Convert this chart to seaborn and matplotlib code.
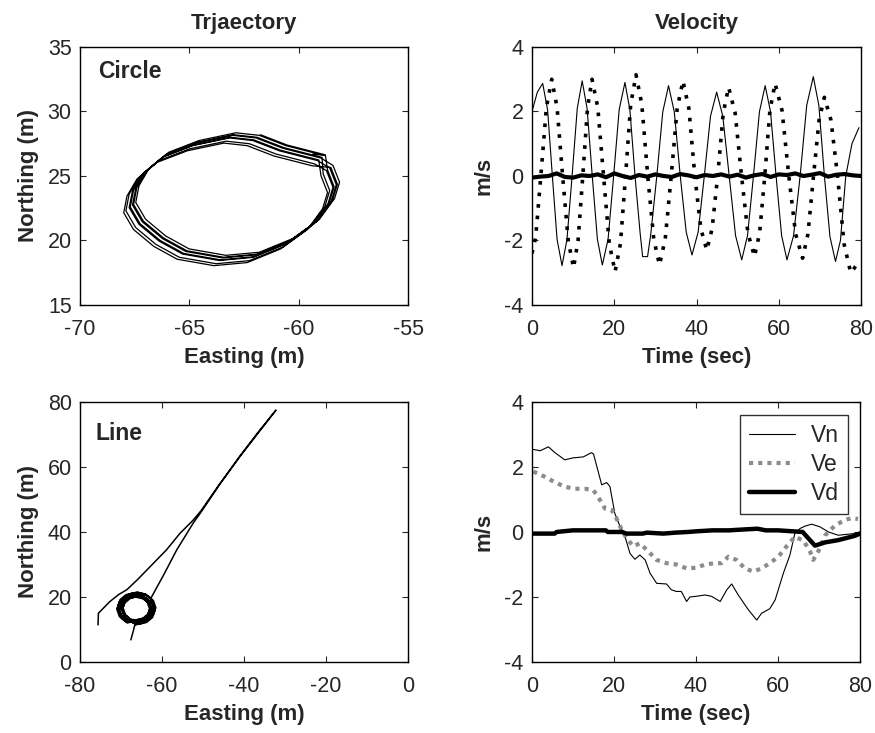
import matplotlib
matplotlib.use("Agg")
import matplotlib.pyplot as plt
import pandas as pd
import seaborn as sns

# ---------------- circle run: trajectory ----------------
circle_loop_x = [-59.08, -60.83, -62.05, -63.12, -64.80, -66.18, -67.10, -67.55, -67.70, -67.25,
                 -66.33, -65.26, -63.58, -62.05, -60.52, -59.30, -58.61, -58.38, -58.68]
circle_loop_y = [26.24, 27.00, 27.80, 28.00, 27.40, 26.50, 25.20, 23.90, 22.60, 21.30,
                 20.00, 19.00, 18.50, 18.74, 19.80, 21.30, 22.90, 24.17, 25.47]
circle_shift_x = [0.25, 0.10, -0.05, -0.20, 0.15, -0.30, 0.00, 0.30]
circle_shift_y = [0.35, 0.15, -0.05, -0.30, 0.20, -0.45, 0.00, 0.40]
circle_start = (-59.35, 26.70)
circle_last_pts = 3

# ---------------- circle run: velocity ----------------
vn_circle = [(0, 2.0), (1.3, 2.6), (2.6, 2.87), (3.8, 2.04), (4.95, 0.0), (6.1, -1.97), (7.3, -2.78),
             (8.5, -1.97), (9.75, 0.0), (11.0, 2.09), (12.2, 2.95), (13.4, 2.09), (14.65, 0.0),
             (15.9, -1.96), (17.1, -2.76), (18.5, -1.96), (19.85, 0.0), (21.2, 2.06), (22.6, 2.9),
             (23.8, 2.06), (25.05, 0.0), (26.3, -1.78), (26.9, -2.5), (28.1, -2.5), (28.9, -1.78),
             (30.35, 0.0), (31.8, 1.99), (33.2, 2.8), (34.6, 1.99), (36.05, 0.0), (37.5, -1.74),
             (38.9, -2.45), (40.4, -1.74), (41.9, 0.0), (43.4, 1.85), (44.9, 2.6), (46.4, 1.85),
             (47.95, 0.0), (49.5, -1.85), (51.0, -2.6), (52.4, -1.85), (53.85, 0.0), (55.3, 1.99),
             (56.7, 2.8), (58.0, 1.99), (59.35, 0.0), (60.7, -1.85), (62.0, -2.6), (63.6, -1.85),
             (65.2, 0.0), (66.8, 2.19), (68.4, 3.08), (69.75, 2.19), (71.1, 0.0), (72.45, -1.88),
             (73.8, -2.65), (75.0, -2.0), (76.3, 0.0), (77.8, 1.0), (79.5, 1.5)]
ve_circle = [(0, -2.4), (0.9, -1.9), (2.15, 0.0), (3.5, 2.12), (4.8, 3.0), (6.1, 2.12), (7.45, 0.0),
             (8.8, -2.0), (10.1, -2.85), (11.2, -2.0), (12.35, 0.0), (13.5, 2.12), (14.6, 3.0),
             (16.0, 2.12), (17.4, 0.0), (18.8, -2.1), (20.2, -2.97), (21.5, -2.1), (22.75, 0.0),
             (24.0, 2.22), (25.3, 3.14), (26.7, 2.22), (28.15, 0.0), (29.6, -1.95), (31.0, -2.76),
             (32.4, -1.95), (33.85, 0.0), (35.3, 2.09), (36.7, 2.95), (38.15, 2.09), (39.6, 0.0),
             (41.05, -1.63), (42.5, -2.3), (43.8, -1.63), (45.15, 0.0), (46.5, 1.95), (47.8, 2.75),
             (49.4, 1.95), (50.95, 0.0), (52.5, -1.77), (54.1, -2.5), (55.35, -1.77), (56.6, 0.0),
             (57.85, 2.03), (59.1, 2.87), (60.8, 2.03), (62.45, 0.0), (64.1, -1.8), (65.8, -2.55),
             (67.1, -1.8), (68.45, 0.0), (69.8, 1.73), (71.1, 2.44), (72.7, 1.73), (74.3, 0.0),
             (75.9, -2.12), (77.5, -3.0), (79.0, -2.75)]
vd_circle_t = [0, 2, 4, 6, 8, 10, 12, 14, 16, 18, 20, 22, 24, 26, 28, 30, 32, 34, 36, 38, 40,
               42, 44, 46, 48, 50, 52, 54, 56, 58, 60, 62, 64, 66, 68, 70, 72, 74, 76, 78, 80]
vd_circle_v = [-0.05, -0.02, 0.0, 0.08, -0.03, -0.05, 0.02, 0.0, 0.05, -0.04, 0.08, 0.0, -0.06,
               0.03, -0.02, 0.05, 0.0, -0.03, 0.06, 0.02, -0.04, 0.03, 0.0, 0.05, -0.02, 0.04,
               -0.05, 0.02, 0.06, -0.03, 0.05, 0.03, 0.08, 0.0, 0.04, 0.09, -0.02, 0.04, 0.06,
               0.02, 0.0]

# ---------------- line run: trajectory ----------------
line_start = [(-67.6, 6.8), (-67.0, 9.5), (-66.6, 11.6)]
ring_loop_x = [-66.3, -64.3, -62.9, -62.3, -62.9, -64.3, -66.3, -68.3, -69.7, -70.3, -69.7, -68.3]
ring_loop_y = [12.2, 12.8, 14.3, 16.5, 18.7, 20.2, 20.8, 20.2, 18.7, 16.5, 14.3, 12.8]
ring_shift_x = [0.6, -0.5, 0.2, -0.7, 0.8, -0.2, 0.4, -0.6, 0.0, 0.5, -0.3, 0.1]
ring_shift_y = [-0.6, 0.5, 0.7, -0.3, 0.2, -0.8, 0.6, 0.1, -0.4, 0.3, -0.5, 0.8]
ring_exit_pts = 5
line_out_back = [(-62.5, 20.1), (-59.5, 27.0), (-56.4, 34.5), (-52.4, 42.7), (-50.7, 45.7),
                 (-46.0, 54.5), (-41.0, 63.2), (-36.5, 70.5), (-32.2, 77.5),
                 (-36.8, 70.3), (-41.2, 63.0), (-46.2, 54.3), (-50.5, 46.5), (-52.5, 43.5),
                 (-55.6, 39.6), (-58.9, 34.5), (-62.9, 29.3), (-66.0, 25.3), (-68.6, 22.2),
                 (-70.5, 20.8), (-72.7, 18.6), (-75.5, 15.0), (-75.6, 11.4)]

# ---------------- line run: velocity ----------------
vn_line = [(0.3, 2.54), (2, 2.5), (4, 2.62), (5.6, 2.44), (8, 2.22), (10, 2.28), (12.5, 2.31),
           (14.5, 2.44), (15, 2.4), (17, 1.45), (18.2, 1.52), (19, 1.4), (20.2, 0.57), (21.5, 0.16),
           (22.7, -0.15), (23.9, -0.66), (25.1, -0.84), (26.3, -0.71), (27.6, -0.86), (28.8, -1.27),
           (30.4, -1.58), (32.8, -1.6), (34, -1.78), (35.2, -1.83), (36.4, -1.83), (37.7, -2.14),
           (38.5, -2.0), (40, -1.98), (42.2, -1.94), (43.8, -1.98), (45.9, -2.14), (47.5, -1.78),
           (48.7, -1.6), (50.3, -1.94), (52.8, -2.4), (54.8, -2.71), (56, -2.5), (58, -2.36),
           (59.3, -2.09), (61.3, -1.27), (62.9, -0.71), (64.1, -0.04), (65.4, 0.11), (66.6, 0.18),
           (68.2, 0.24), (70.2, 0.16), (72.3, 0.0), (74.7, -0.1), (78.5, -0.05), (80, 0.0)]
ve_line = [(0.3, 1.86), (2.8, 1.72), (5.6, 1.53), (8, 1.39), (10.5, 1.33), (13, 1.33), (15, 1.28),
           (16.6, 0.98), (17.8, 0.72), (19.4, 0.68), (20.6, 0.42), (21.9, 0.06), (23.1, -0.2),
           (24.7, -0.44), (26.3, -0.35), (28.4, -0.6), (30.4, -0.86), (32.8, -0.96), (35.2, -1.0),
           (37.7, -1.12), (40.2, -1.1), (42.2, -1.0), (44.6, -0.96), (46.2, -0.96), (47.9, -0.76),
           (49.9, -0.86), (51.9, -1.12), (54, -1.22), (56, -1.12), (58, -0.96), (60.1, -0.76),
           (62.1, -0.44), (64.1, -0.15), (66.2, -0.26), (67.8, -0.6), (68.6, -0.86), (69.8, -0.6),
           (71.5, -0.1), (73.9, 0.2), (76.3, 0.37), (78, 0.43), (79.5, 0.4)]
vd_line = [(0, -0.05), (5.5, -0.05), (6, 0.0), (10, 0.05), (18, 0.05), (18.5, 0.0), (22, 0.0),
           (23, -0.05), (27, -0.05), (28, -0.02), (32, -0.05), (35, -0.02), (38, 0.0), (40, 0.02),
           (44, 0.05), (48, 0.05), (52, 0.08), (55, 0.1), (57, 0.05), (60, 0.05), (66, 0.0),
           (69, -0.42), (71.5, -0.32), (74.7, -0.25), (78.7, -0.12), (80, -0.05)]

# ---------------- assemble trajectories ----------------
cx, cy = [circle_start[0]], [circle_start[1]]
for k, (dx, dy) in enumerate(zip(circle_shift_x, circle_shift_y)):
    n = circle_last_pts if k == len(circle_shift_x) - 1 else len(circle_loop_x)
    cx += [x + dx for x in circle_loop_x[:n]]
    cy += [y + dy for y in circle_loop_y[:n]]
circle_df = pd.DataFrame({"Easting": cx, "Northing": cy})

lx = [p[0] for p in line_start]
ly = [p[1] for p in line_start]
for k, (dx, dy) in enumerate(zip(ring_shift_x, ring_shift_y)):
    n = ring_exit_pts if k == len(ring_shift_x) - 1 else len(ring_loop_x)
    lx += [x + dx for x in ring_loop_x[:n]]
    ly += [y + dy for y in ring_loop_y[:n]]
lx += [p[0] for p in line_out_back]
ly += [p[1] for p in line_out_back]
line_df = pd.DataFrame({"Easting": lx, "Northing": ly})


def series(pairs):
    return pd.DataFrame(pairs, columns=["t", "v"])


# ---------------- style ----------------
sns.set_style("ticks", {"xtick.direction": "in", "ytick.direction": "in",
                        "axes.edgecolor": "black"})
plt.rcParams["font.family"] = ["Liberation Sans", "DejaVu Sans"]
plt.rcParams["axes.unicode_minus"] = False
plt.rcParams["xtick.top"] = True
plt.rcParams["ytick.right"] = True

TICK_FS = 15.5
LABEL_FS = 16
TITLE_FS = 16
NOTE_FS = 16.5

fig = plt.figure(figsize=(8.75, 7.33), dpi=100)
ax_tl = fig.add_axes([0.0914, 0.5839, 0.3749, 0.3520])
ax_tr = fig.add_axes([0.6080, 0.5839, 0.3760, 0.3520])
ax_bl = fig.add_axes([0.0914, 0.0969, 0.3749, 0.3547])
ax_br = fig.add_axes([0.6080, 0.0969, 0.3749, 0.3547])

# trajectories
sns.lineplot(data=circle_df, x="Easting", y="Northing", sort=False, estimator=None,
             color="black", lw=0.9, ax=ax_tl)
sns.lineplot(data=line_df, x="Easting", y="Northing", sort=False, estimator=None,
             color="black", lw=1.1, ax=ax_bl)

# velocities, circle run
sns.lineplot(data=series(vn_circle), x="t", y="v", sort=False, estimator=None,
             color="black", lw=0.8, ax=ax_tr)
sns.lineplot(data=series(ve_circle), x="t", y="v", sort=False, estimator=None,
             color="black", lw=2.6, linestyle=(0, (1, 2.2)), dash_capstyle="butt", ax=ax_tr)
sns.lineplot(x=vd_circle_t, y=vd_circle_v, sort=False, estimator=None,
             color="black", lw=3.0, ax=ax_tr)

# velocities, line run
sns.lineplot(data=series(vn_line), x="t", y="v", sort=False, estimator=None,
             color="black", lw=0.8, label="Vn", ax=ax_br)
sns.lineplot(data=series(ve_line), x="t", y="v", sort=False, estimator=None,
             color="#8c8c8c", lw=3.0, linestyle=(0, (1, 1.2)), dash_capstyle="butt",
             label="Ve", ax=ax_br)
sns.lineplot(data=series(vd_line), x="t", y="v", sort=False, estimator=None,
             color="black", lw=3.2, label="Vd", ax=ax_br)

leg = ax_br.legend(loc="upper right", bbox_to_anchor=(0.963, 0.95), borderaxespad=0,
                   frameon=True, fancybox=False, fontsize=NOTE_FS, handlelength=2.0,
                   borderpad=0.4, labelspacing=0.25, handletextpad=0.7)
leg.get_frame().set_edgecolor("black")
leg.get_frame().set_linewidth(1.0)

# axes limits / ticks / labels
ax_tl.set(xlim=(-70, -55), ylim=(15, 35), xticks=[-70, -65, -60, -55], yticks=[15, 20, 25, 30, 35])
ax_bl.set(xlim=(-80, 0), ylim=(0, 80), xticks=[-80, -60, -40, -20, 0], yticks=[0, 20, 40, 60, 80])
for ax in (ax_tr, ax_br):
    ax.set(xlim=(0, 80), ylim=(-4, 4), xticks=[0, 20, 40, 60, 80], yticks=[-4, -2, 0, 2, 4])

for ax in (ax_tl, ax_bl):
    ax.set_xlabel("Easting (m)", fontsize=LABEL_FS, fontweight="bold", labelpad=5)
    ax.set_ylabel("Northing (m)", fontsize=LABEL_FS, fontweight="bold", labelpad=6)
for ax in (ax_tr, ax_br):
    ax.set_xlabel("Time (sec)", fontsize=LABEL_FS, fontweight="bold", labelpad=5)
    ax.set_ylabel("m/s", fontsize=LABEL_FS, fontweight="bold", labelpad=7)

ax_tl.set_title("Trjaectory", fontsize=TITLE_FS, fontweight="bold", pad=13)
ax_tr.set_title("Velocity", fontsize=TITLE_FS, fontweight="bold", pad=13)

ax_tl.text(0.055, 0.879, "Circle", transform=ax_tl.transAxes, fontsize=NOTE_FS,
           fontweight="bold", va="baseline", ha="left")
ax_bl.text(0.046, 0.854, "Line", transform=ax_bl.transAxes, fontsize=NOTE_FS,
           fontweight="bold", va="baseline", ha="left")

for ax in (ax_tl, ax_tr, ax_bl, ax_br):
    ax.tick_params(direction="in", length=4, width=0.8, labelsize=TICK_FS,
                   top=True, right=True)
    ax.tick_params(axis="x", pad=10)
    ax.tick_params(axis="y", pad=6)
    for s in ax.spines.values():
        s.set_visible(True)
        s.set_color("black")
        s.set_linewidth(1.0)

fig.savefig("out.png", dpi=100, facecolor="white")
